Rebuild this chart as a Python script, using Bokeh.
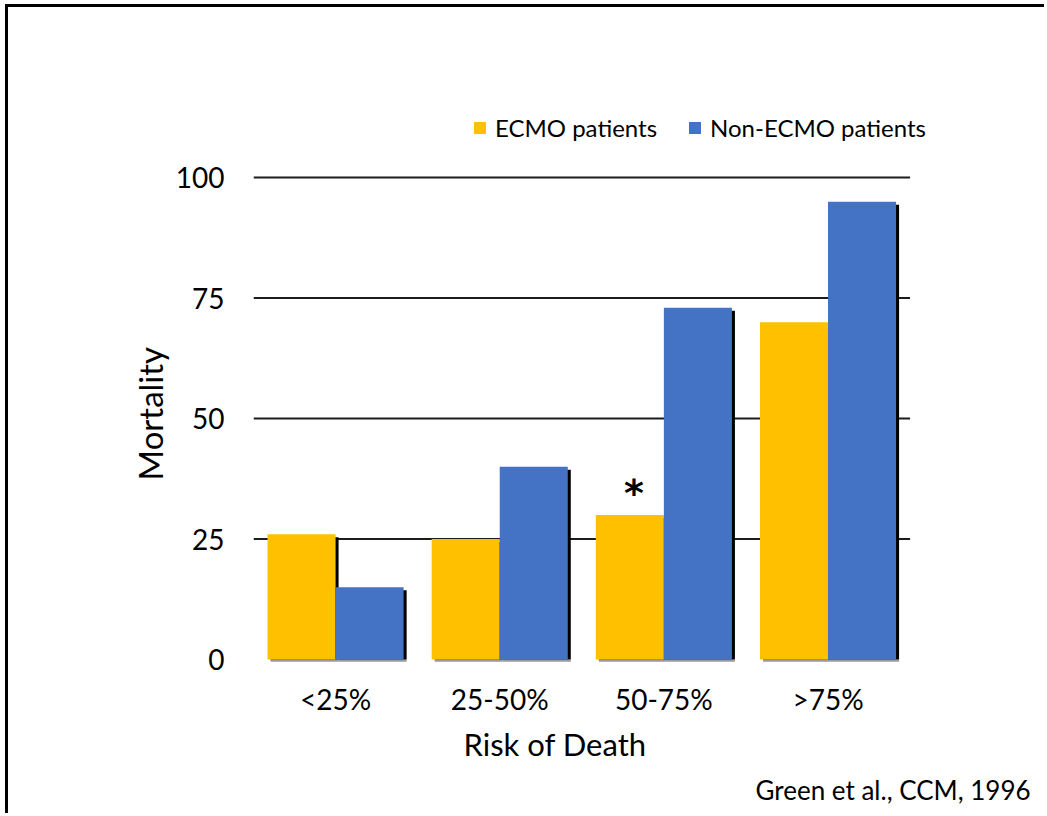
from bokeh.plotting import figure
from bokeh.models import (ColumnDataSource, Range1d, FixedTicker,
                          Legend, LegendItem, Title)
from bokeh.core.properties import value
from bokeh.embed import file_html
from bokeh.resources import INLINE

# Mortality (%) by predicted risk-of-death band
categories = ["<25%", "25-50%", "50-75%", ">75%"]
ecmo = [26, 25, 30, 70]
non_ecmo = [15, 40, 73, 95]
y_ticks = [0, 25, 50, 75, 100]
series_names = ["ECMO patients", "Non-ECMO patients"]
significant = ["50-75%"]

FONT = "Lato"
YELLOW = "#FFC000"
BLUE = "#4472C4"

BAR_W = 0.4146
HALF = BAR_W / 2
SH_DX = 0.0183   # drop shadow, ~3 px right
SH_DY = 0.62     # drop shadow, ~3 px down

n = len(categories)
centers = [i + 0.5 for i in range(n)]          # one unit per category

src = ColumnDataSource(dict(
    x_e=[c - HALF for c in centers],
    x_n=[c + HALF for c in centers],
    xs_e=[c - HALF + SH_DX for c in centers],
    xs_n=[c + HALF + SH_DX for c in centers],
    ecmo=ecmo,
    non=non_ecmo,
    ecmo_sh=[v - SH_DY for v in ecmo],
    non_sh=[v - SH_DY for v in non_ecmo],
))

# frame runs a little past the last category so the legend fits inside it,
# and up past 100 for the same reason
p = figure(
    x_range=Range1d(0, 4.1),
    y_range=Range1d(-0.6, 116),
    width=1039, height=809,
    min_border_left=245, min_border_right=121,
    min_border_top=93, min_border_bottom=154,
    output_backend="svg", toolbar_location=None,
)
p.margin = (4, 0, 0, 5)
p.styles = {"border-left": "3px solid #000", "border-top": "3px solid #000"}
p.outline_line_color = None
p.background_fill_color = "white"
p.border_fill_color = "white"
p.xgrid.grid_line_color = None
p.ygrid.grid_line_color = None

# horizontal rules at the non-zero ticks, spanning the category area
rules = y_ticks[1:]
p.segment(x0=[0] * len(rules), x1=[n] * len(rules), y0=rules, y1=rules,
          line_color="#1c1c1c", line_width=2)

# grey strip under each group, then black drop shadows, then the bars
for xs, top in (("xs_e", "ecmo_sh"), ("xs_n", "non_sh")):
    p.vbar(x=xs, top=0, bottom=-0.45, width=BAR_W, source=src,
           fill_color="#9a9a9a", line_color=None)
    p.vbar(x=xs, top=top, bottom=0, width=BAR_W, source=src,
           fill_color="black", line_color=None)

r_e = p.vbar(x="x_e", top="ecmo", bottom=0, width=BAR_W, source=src,
             fill_color=YELLOW, line_color=None)
r_n = p.vbar(x="x_n", top="non", bottom=0, width=BAR_W, source=src,
             fill_color=BLUE, line_color=None)

# significance marker above the ECMO bar
sig_idx = [categories.index(c) for c in significant]
sig_src = ColumnDataSource(dict(
    x=[centers[i] - HALF for i in sig_idx],
    y=[ecmo[i] for i in sig_idx],
    t=["*" for _ in sig_idx],
))
p.text(x="x", y="y", text="t", source=sig_src,
       text_font=value("DejaVu Sans"), text_font_size="38px", text_font_style="bold",
       text_align="center", text_baseline="middle", x_offset=4, y_offset=-22,
       text_color="black")

# axes
p.yaxis.ticker = FixedTicker(ticks=y_ticks)
p.xaxis.ticker = FixedTicker(ticks=centers)
p.xaxis.major_label_overrides = {c: lab for c, lab in zip(centers, categories)}

for ax in (p.xaxis[0], p.yaxis[0]):
    ax.axis_line_color = None
    ax.major_tick_line_color = None
    ax.minor_tick_line_color = None
    ax.major_label_text_font = FONT
    ax.major_label_text_color = "black"
    ax.major_label_text_font_size = "28px"

p.yaxis.major_label_standoff = 23
p.xaxis.major_label_standoff = 13

# axis titles and source note, anchored from the frame's lower-left corner
y_title = Title(text="Mortality", align="left", offset=182, standoff=6,
                text_font=FONT, text_font_size="33px", text_font_style="normal",
                text_color="black")
p.add_layout(y_title, "left")

x_title = Title(text="Risk of Death", align="left", offset=210, standoff=8,
                text_font=FONT, text_font_size="31px", text_font_style="normal",
                text_color="black")
p.add_layout(x_title, "below")
note = Title(text="Green et al., CCM, 1996", align="left", offset=502, standoff=11,
             text_font=FONT, text_font_size="26px", text_font_style="normal",
             text_color="black")
p.add_layout(note, "below")

legend = Legend(
    items=[LegendItem(label=series_names[0], renderers=[r_e]),
           LegendItem(label=series_names[1], renderers=[r_n])],
    orientation="horizontal", location=(219, 520),
    glyph_width=15, glyph_height=15, label_standoff=8, spacing=30,
    padding=0, margin=0, border_line_color=None, background_fill_alpha=0,
    label_text_font=FONT, label_text_font_size="24px", label_text_color="black",
)
p.add_layout(legend, "center")

open("out.html", "w").write(file_html(p, INLINE))
